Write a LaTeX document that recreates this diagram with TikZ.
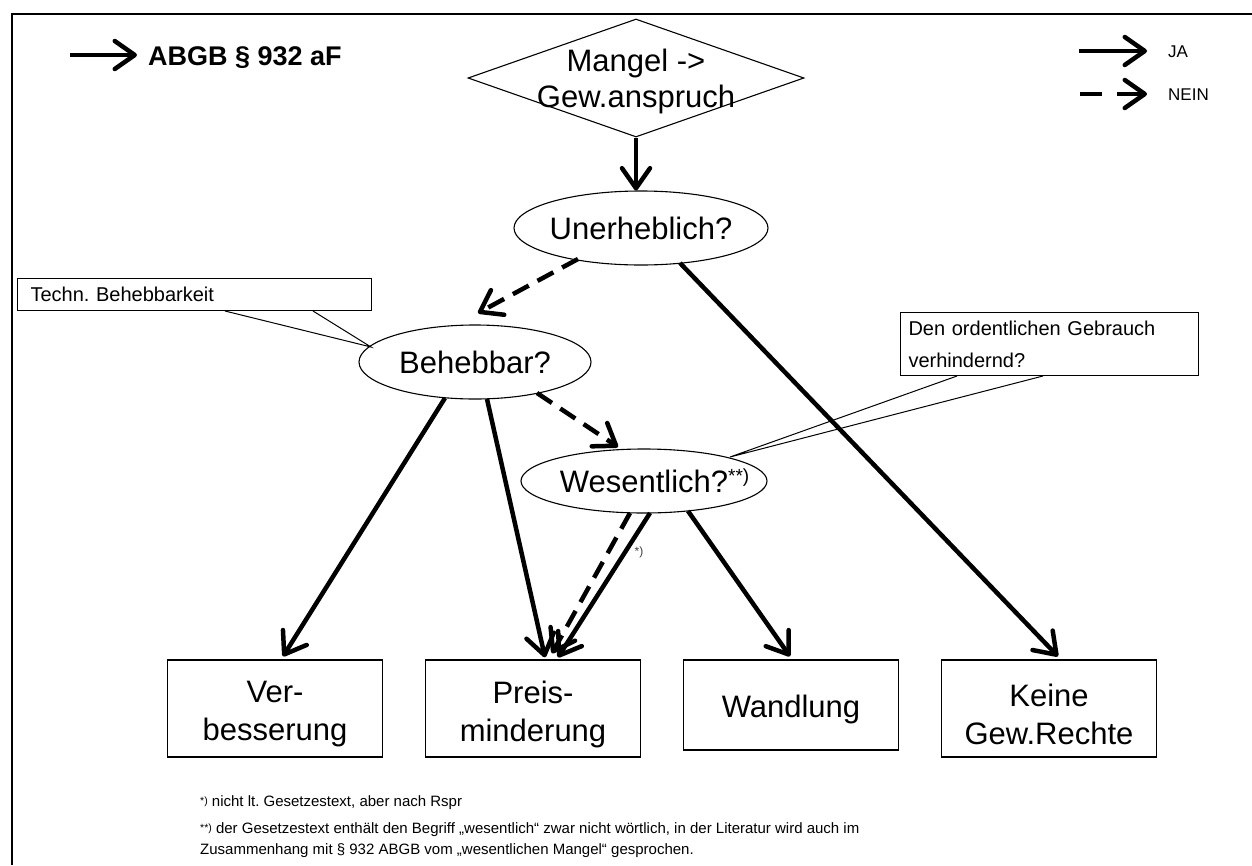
\documentclass[tikz,border=0pt]{standalone}
\usepackage{fontspec}
\setmainfont{Liberation Sans}
\usetikzlibrary{shapes.geometric,arrows.meta,calc}
\newcommand\fnmk[1]{\raisebox{2pt}{\fontsize{10.5}{10.5}\selectfont #1}}
\frenchspacing
\begin{document}
\begin{tikzpicture}[x=1pt,y=-1pt,
  lbl/.style={font=\fontsize{31}{36}\selectfont},
  decision/.style={draw, line width=1.1pt, diamond, inner sep=0pt, lbl},
  question/.style={draw, line width=1.1pt, ellipse, inner sep=0pt, lbl},
  outcome/.style={draw, line width=1.3pt, rectangle, minimum width=215pt, inner sep=0pt},
  note/.style={draw, line width=1pt, rectangle, anchor=north west, inner ysep=0pt, align=left, font=\fontsize{20}{32}\selectfont},
  yes/.style={line width=4.5pt, -{Straight Barb[length=20pt,width=28pt,round]}},
  no/.style={yes, dash pattern=on 18pt off 10pt},
  ptr/.style={line width=1pt},
  foot/.style={anchor=base west, inner sep=0pt, font=\fontsize{15}{21}\selectfont},
]
\useasboundingbox (0,0) rectangle (1252,865);
% frame
\draw[line width=2pt] (12,865) -- (12,14) -- (1252,14);

% header and legend
\coordinate (hdA) at (70,55);  \coordinate (hdB) at (137,55);
\draw[yes] (hdA) -- (hdB);
\node[anchor=base west, inner sep=0pt, font=\bfseries\fontsize{27}{27}\selectfont] (title) at (148,65) {ABGB § 932 aF};
\coordinate (jaA) at (1079,51);  \coordinate (jaB) at (1147,51);
\draw[yes] (jaA) -- (jaB);
\node[anchor=base west, inner sep=0pt, font=\fontsize{17}{17}\selectfont] (ja) at (1168,57.5) {JA};
\coordinate (neinA) at (1080,94);  \coordinate (neinB) at (1147,94);
\draw[yes, dash pattern=on 22pt off 15pt on 100pt] (neinA) -- (neinB);
\node[anchor=base west, inner sep=0pt, font=\fontsize{17}{17}\selectfont] (nein) at (1168,100.5) {NEIN};

% decision and question nodes
\node[decision, minimum width=336pt, minimum height=118pt,
      label={[lbl, align=center, yshift=-3pt]center:Mangel ->\\Gew.anspruch}] (dm) at (636,78) {};
\node[question, minimum width=254pt, minimum height=74pt] (ue) at (641,228) {\makebox[0pt]{Unerheblich?}};
\node[question, minimum width=232pt, minimum height=74pt] (be) at (475,362) {\makebox[0pt]{Behebbar?}};
\node[question, minimum width=246pt, minimum height=64pt] (we) at (644,481)
  {\makebox[0pt]{Wesentlich?\rlap{\raisebox{10pt}{\fontsize{19}{19}\selectfont **)}}}};

% outcomes
\node[outcome, minimum height=97pt, label={[lbl, align=center, yshift=-6pt]center:Ver-\\[2pt]besserung}] (b1) at (275,708.5) {};
\node[outcome, minimum height=97pt, label={[lbl, align=center, yshift=-6pt]center:Preis-\\[2pt]minderung}] (b2) at (533,708.5) {};
\node[outcome, minimum height=90pt, label={[lbl, yshift=-4pt]center:Wandlung}] (b3) at (791,705) {};
\node[outcome, minimum height=97pt, label={[lbl, align=center, yshift=-6pt]center:Keine\\[2pt]Gew.Rechte}] (b4) at (1049,708.5) {};

% callouts
\node[note, minimum height=32pt, text width=328pt, inner xsep=13pt] (c1) at (17,278) {Techn. Behebbarkeit};
\node[note, minimum height=63pt, text width=282pt, inner xsep=8pt] (c2) at (900,312) {Den ordentlichen Gebrauch\\verhindernd?};
\coordinate (t1) at ($(be)+(-104,-15)$);
\draw[ptr] ($(c1.south west)+(208,0)$) -- (t1) -- ($(c1.south west)+(296,0)$);
\coordinate (t2) at ($(we)+(86,-24)$);
\draw[ptr] ($(c2.south west)+(57,0)$) -- (t2) -- ($(c2.south west)+(143,0)$);

% connectors
\draw[yes] (dm.south) -- (dm.south |- ue.north);
\draw[no]  ($(ue)+(-63,31)$) -- ($(be)+(3,-49)$);
\draw[yes] ($(ue)+(39,35)$) -- ($(b4.north)+(9,-3)$);
\draw[yes] ($(be)+(-30,36)$) -- ($(b1.north)+(8,-3)$);
\draw[yes] ($(be)+(12,37)$) -- ($(b2.north)+(12,-2)$);
\draw[no]  ($(be)+(62,31)$) -- ($(we)+(-26,-34)$);
\draw[no]  ($(we)+(-14,32)$) -- ($(b2.north)+(19,-6)$);
\draw[yes] ($(we)+(6,32)$) -- ($(b2.north)+(25,-2)$);
\draw[yes] ($(we)+(44,30)$) -- ($(b3.north)+(-1,-3)$);
\node[inner sep=0pt, font=\fontsize{12}{12}\selectfont, text=black!75] (star) at (639,552) {*)};

% footnotes
\node[foot] (fn1) at (200,806) {\fnmk{*)} nicht lt. Gesetzestext, aber nach Rspr};
\node[foot] (fn2) at (200,833) {\fnmk{**)} der Gesetzestext enthält den Begriff „wesentlich“ zwar nicht wörtlich, in der Literatur wird auch im};
\node[foot] (fn3) at (200,854) {Zusammenhang mit § 932 ABGB vom „wesentlichen Mangel“ gesprochen.};
\end{tikzpicture}
\end{document}
